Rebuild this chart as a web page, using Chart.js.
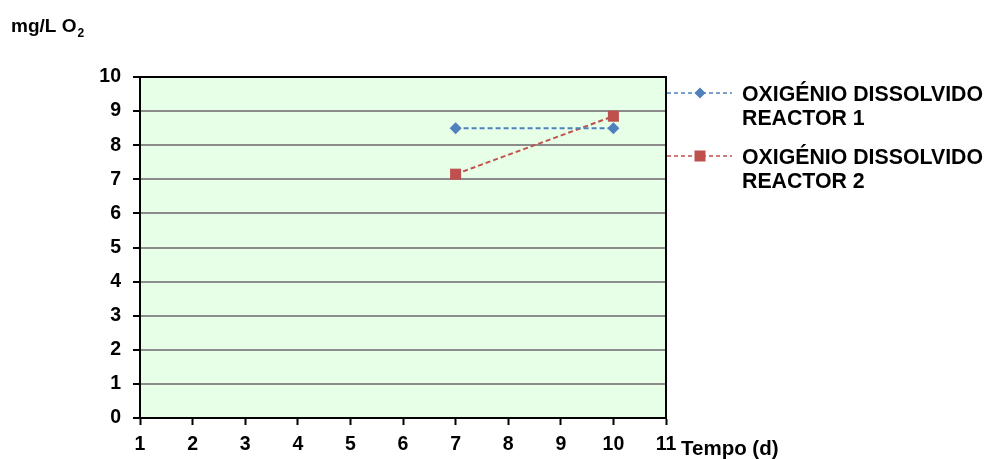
<!DOCTYPE html>
<html>
<head>
<meta charset="utf-8">
<script src="https://cdn.jsdelivr.net/npm/chart.js@4.4.0/dist/chart.umd.min.js"></script>
<style>
  html, body { margin: 0; padding: 0; background: #ffffff; }
  #wrap { width: 986px; height: 459px; }
</style>
</head>
<body>
<div id="wrap"><canvas id="c" width="986" height="459"></canvas></div>
<script>
const days = [7, 10];
const reactor1 = [8.5, 8.5];
const reactor2 = [7.15, 8.85];
const seriesLabels = [
  ['OXIGÉNIO DISSOLVIDO', 'REACTOR 1'],
  ['OXIGÉNIO DISSOLVIDO', 'REACTOR 2']
];
const yTitle = 'mg/L O';
const yTitleSub = '2';
const xTitle = 'Tempo (d)';

const FONT = '"Liberation Sans", Arial, sans-serif';
const BLUE = '#4F81BD';
const RED = '#C0504D';

const toPoints = (xs, ys) => xs.map((x, i) => ({ x: x, y: ys[i] }));

const decorPlugin = {
  id: 'decor',
  beforeDraw(chart) {
    const { ctx, chartArea: a } = chart;
    ctx.save();
    ctx.fillStyle = '#E6FFE6';
    ctx.fillRect(a.left, a.top, a.right - a.left, a.bottom - a.top);
    ctx.restore();
  },
  beforeDatasetsDraw(chart) {
    const { ctx, chartArea: a } = chart;
    ctx.save();
    ctx.strokeStyle = '#000000';
    ctx.lineWidth = 2;
    ctx.strokeRect(a.left, a.top, a.right - a.left, a.bottom - a.top);
    ctx.restore();
  },
  afterDraw(chart) {
    const { ctx, chartArea: a } = chart;
    ctx.save();
    ctx.fillStyle = '#000000';
    ctx.textBaseline = 'alphabetic';
    ctx.textAlign = 'left';
    // y title
    ctx.font = 'bold 19px ' + FONT;
    ctx.fillText(yTitle, 11, 32);
    const w = ctx.measureText(yTitle).width;
    ctx.font = 'bold 12px ' + FONT;
    ctx.fillText(yTitleSub, 11 + w + 1, 37);
    // x title
    ctx.font = 'bold 20.5px ' + FONT;
    ctx.fillText(xTitle, 681, 455);
    // legend
    const legendY = [93, 156];
    chart.data.datasets.forEach((ds, i) => {
      const y = legendY[i];
      ctx.save();
      ctx.strokeStyle = ds.borderColor;
      ctx.lineWidth = 1.5;
      ctx.setLineDash([4, 3]);
      ctx.beginPath();
      ctx.moveTo(a.right + 1, y);
      ctx.lineTo(732, y);
      ctx.stroke();
      ctx.restore();
      ctx.save();
      ctx.fillStyle = ds.pointBackgroundColor;
      if (ds.pointStyle === 'rectRot') {
        ctx.beginPath();
        ctx.moveTo(700, y - 5.5);
        ctx.lineTo(705.5, y);
        ctx.lineTo(700, y + 5.5);
        ctx.lineTo(694.5, y);
        ctx.closePath();
        ctx.fill();
      } else {
        ctx.fillRect(694.5, y - 5.5, 11, 11);
      }
      ctx.restore();
      ctx.font = 'bold 21.3px ' + FONT;
      ctx.fillStyle = '#000000';
      const lines = seriesLabels[i];
      lines.forEach((t, j) => {
        ctx.fillText(t, 742, y + 8 + j * 23.5);
      });
    });
    ctx.restore();
  }
};

new Chart(document.getElementById('c'), {
  type: 'line',
  data: {
    datasets: [
      {
        label: seriesLabels[0].join(' '),
        data: toPoints(days, reactor1),
        borderColor: BLUE,
        backgroundColor: BLUE,
        pointBackgroundColor: BLUE,
        pointBorderColor: BLUE,
        borderWidth: 2,
        borderDash: [5, 3],
        pointStyle: 'rectRot',
        pointRadius: 6,
        pointBorderWidth: 0,
        fill: false,
        tension: 0
      },
      {
        label: seriesLabels[1].join(' '),
        data: toPoints(days, reactor2),
        borderColor: RED,
        backgroundColor: RED,
        pointBackgroundColor: RED,
        pointBorderColor: RED,
        borderWidth: 2,
        borderDash: [5, 3],
        pointStyle: 'rect',
        pointRadius: 7.8,
        pointBorderWidth: 0,
        fill: false,
        tension: 0
      }
    ]
  },
  options: {
    responsive: false,
    animation: false,
    devicePixelRatio: 1,
    layout: { padding: { top: 77, right: 320, left: 0, bottom: 0 } },
    plugins: {
      legend: { display: false },
      title: { display: false },
      tooltip: { enabled: false }
    },
    scales: {
      x: {
        type: 'linear',
        min: 1,
        max: 11,
        afterFit(scale) { scale.height = 41; },
        ticks: {
          stepSize: 1,
          color: '#000000',
          font: { family: FONT, size: 19.5, weight: 'bold' },
          padding: 8,
          maxRotation: 0,
          autoSkip: false
        },
        grid: {
          drawOnChartArea: false,
          drawTicks: true,
          tickLength: 7,
          tickColor: '#000000',
          tickWidth: 2
        },
        border: { display: true, color: '#000000', width: 2 }
      },
      y: {
        min: 0,
        max: 10,
        afterFit(scale) { scale.width = 140; },
        ticks: {
          stepSize: 1,
          color: '#000000',
          font: { family: FONT, size: 19.5, weight: 'bold' },
          padding: 12
        },
        grid: {
          drawOnChartArea: true,
          color: '#8C8C8C',
          lineWidth: 2,
          tickLength: 7,
          tickColor: '#000000',
          tickWidth: 2
        },
        border: { display: true, color: '#000000', width: 2 }
      }
    }
  },
  plugins: [decorPlugin]
});
</script>
</body>
</html>
